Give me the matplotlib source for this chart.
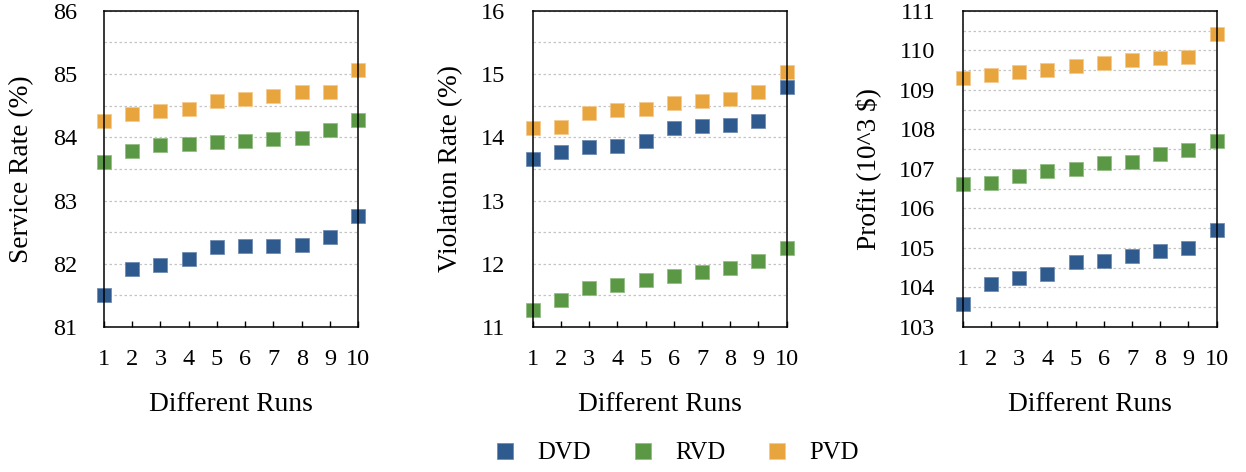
import matplotlib
matplotlib.use("Agg")
import matplotlib.pyplot as plt
from matplotlib.ticker import MultipleLocator

plt.rcParams["font.family"] = ["Liberation Serif", "DejaVu Serif"]

runs = [1, 2, 3, 4, 5, 6, 7, 8, 9, 10]
methods = ["DVD", "RVD", "PVD"]
colors = {"DVD": "#2E5A8E", "RVD": "#5B9846", "PVD": "#E8A43D"}
edges = {"DVD": "#6F8DB3", "RVD": "#93BD83", "PVD": "#F3CB8E"}

service_rate = {
    "DVD": [81.50, 81.91, 81.98, 82.08, 82.27, 82.28, 82.28, 82.29, 82.42, 82.75],
    "RVD": [83.61, 83.78, 83.87, 83.89, 83.92, 83.94, 83.98, 83.99, 84.11, 84.27],
    "PVD": [84.25, 84.37, 84.42, 84.45, 84.57, 84.61, 84.66, 84.71, 84.72, 85.06],
}
violation_rate = {
    "DVD": [13.65, 13.76, 13.85, 13.86, 13.94, 14.15, 14.18, 14.20, 14.25, 14.79],
    "RVD": [11.27, 11.42, 11.61, 11.67, 11.75, 11.81, 11.87, 11.94, 12.05, 12.25],
    "PVD": [14.15, 14.17, 14.39, 14.43, 14.44, 14.54, 14.57, 14.61, 14.72, 15.03],
}
profit = {
    "DVD": [103.58, 104.09, 104.25, 104.35, 104.64, 104.68, 104.79, 104.93, 105.00, 105.46],
    "RVD": [106.61, 106.65, 106.82, 106.94, 106.99, 107.14, 107.17, 107.37, 107.47, 107.70],
    "PVD": [109.31, 109.37, 109.45, 109.49, 109.60, 109.67, 109.76, 109.81, 109.84, 110.41],
}

panels = [
    (service_rate, "Service Rate (%)", (81, 86), 0.0835, -0.276),
    (violation_rate, "Violation Rate (%)", (11, 16), 0.4275, -0.274),
    (profit, "Profit (10^3 $)", (103, 111), 0.7726, -0.319),
]

fig = plt.figure(figsize=(12.46, 4.72), dpi=100)
handles = []
for data, ylabel, ylim, left, ylab_x in panels:
    ax = fig.add_axes([left, 0.3072, 0.2039, 0.670])
    for m in methods:
        h, = ax.plot(runs, data[m], "s", color=colors[m], mec=edges[m], mew=0.6,
                     ms=10.5, ls="none", clip_on=False, zorder=2, label=m)
        if len(handles) < 3:
            handles.append(h)
    ax.set_xlim(1, 10)
    ax.set_ylim(*ylim)
    ax.set_xticks(runs)
    ax.yaxis.set_major_locator(MultipleLocator(1))
    ax.yaxis.set_minor_locator(MultipleLocator(0.5))
    ax.grid(True, axis="y", which="both", color="#c4c4c4", ls=(0, (2, 2)), lw=0.9)
    ax.set_axisbelow(True)
    ax.tick_params(axis="x", direction="in", length=4, width=1, pad=16, labelsize=17.5)
    ax.tick_params(axis="y", which="both", length=0, pad=19.5, labelsize=17.5)
    for s in ax.spines.values():
        s.set_linewidth(1.1)
    ax.set_ylabel(ylabel, fontsize=19.7)
    ax.yaxis.set_label_coords(ylab_x, 0.5)
    ax.set_xlabel("Different Runs", fontsize=19.8)
    ax.xaxis.set_label_coords(0.5, -0.205)

fig.legend(handles=handles, labels=methods, loc="center", ncol=3,
           bbox_to_anchor=(676 / 1246, 1 - 453 / 472), frameon=False,
           fontsize=17.8, markerscale=1.15, handlelength=1.0, handletextpad=0.8,
           columnspacing=1.6)

fig.savefig("out.png", dpi=100)
